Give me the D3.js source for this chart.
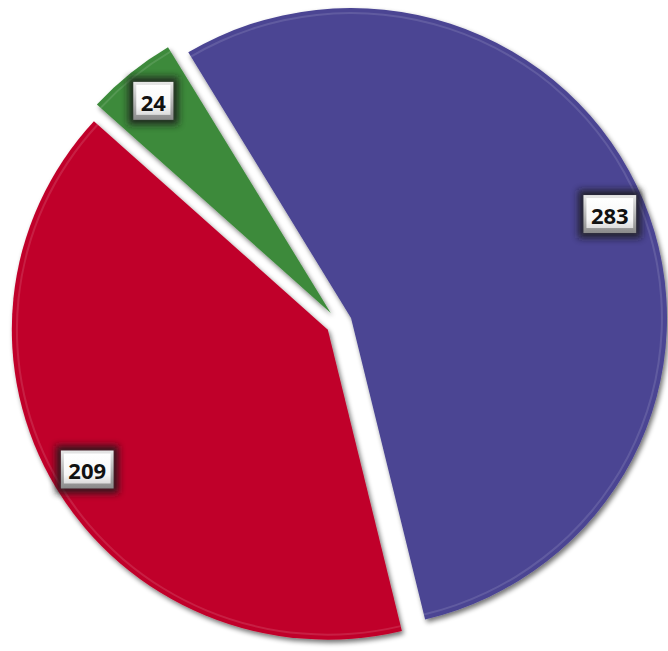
<!DOCTYPE html>
<html>
<head>
<meta charset="utf-8">
<script src="https://cdn.jsdelivr.net/npm/d3@7"></script>
<style>
  body { margin: 0; background: #fff; }
  svg { display: block; }
</style>
</head>
<body>
<svg width="668" height="651"></svg>
<script>
// slice values, clockwise from the first slice
const values = [283, 209, 24]
const colors = ["#4b4593", "#c0002a", "#3c8a3a"]
const labels = ["283", "209", "24"]

const width = 668, height = 651
const cx = 339, cy = 323
const radius = 310
const stretchX = 316 / 310   // pie is a touch wider than tall
const explode = 13
const startAngle = -31 * Math.PI / 180

const svg = d3.select("svg")
const defs = svg.append("defs")

// drop shadow for the slices
let sh = defs.append("filter").attr("id", "shadow")
    .attr("x", "-10%").attr("y", "-10%").attr("width", "120%").attr("height", "120%")
sh.append("feGaussianBlur").attr("in", "SourceAlpha").attr("stdDeviation", 2.5).attr("result", "b")
sh.append("feOffset").attr("in", "b").attr("dx", 1.5).attr("dy", 2.5).attr("result", "o")
sh.append("feComponentTransfer").attr("in", "o").attr("result", "s")
    .append("feFuncA").attr("type", "linear").attr("slope", 0.55)
let m = sh.append("feMerge")
m.append("feMergeNode").attr("in", "s")
m.append("feMergeNode").attr("in", "SourceGraphic")

// dark glow behind the label boxes
let gl = defs.append("filter").attr("id", "glow")
    .attr("x", "-50%").attr("y", "-50%").attr("width", "200%").attr("height", "200%")
gl.append("feGaussianBlur").attr("stdDeviation", 3.5)

// box face gradients
let lg = defs.append("linearGradient").attr("id", "boxEdge")
    .attr("x1", 0).attr("y1", 0).attr("x2", 0).attr("y2", 1)
lg.append("stop").attr("offset", "0%").attr("stop-color", "#e8e8e8")
lg.append("stop").attr("offset", "100%").attr("stop-color", "#8a8a8a")
let lf = defs.append("linearGradient").attr("id", "boxFace")
    .attr("x1", 0).attr("y1", 0).attr("x2", 0).attr("y2", 1)
lf.append("stop").attr("offset", "0%").attr("stop-color", "#ffffff")
lf.append("stop").attr("offset", "70%").attr("stop-color", "#f7f7f7")
lf.append("stop").attr("offset", "100%").attr("stop-color", "#dcdcdc")

const pie = d3.pie().sort(null)
    .startAngle(startAngle)
    .endAngle(startAngle + 2 * Math.PI)
const arcs = pie(values)

const arc = d3.arc().innerRadius(0).outerRadius(radius)
const rim = d3.arc().innerRadius(radius - 6).outerRadius(radius - 4)
const labelArc = d3.arc().innerRadius(radius * 0.885).outerRadius(radius * 0.885)

const g = svg.append("g").attr("transform", "translate(" + cx + "," + cy + ")")

const slice = g.selectAll("g.slice")
    .data(arcs)
    .enter()
    .append("g")
    .attr("class", "slice")
    .attr("transform", function(d) {
        let a = (d.startAngle + d.endAngle) / 2
        return "translate(" + (Math.sin(a) * explode) + "," + (-Math.cos(a) * explode) + ")"
    })

let shape = slice.append("g").attr("transform", "scale(" + stretchX + ",1)")

shape.append("path")
    .attr("d", arc)
    .attr("fill", function(d, i) { return colors[i] })
    .attr("filter", "url(#shadow)")

// faint highlight just inside the rim
shape.append("path")
    .attr("d", rim)
    .attr("fill", "#fff")
    .attr("opacity", 0.12)

// labels
slice.each(function(d, i) {
    let s = d3.select(this)
    let p = labelArc.centroid(d)
    p[0] = p[0] * stretchX
    let t = s.append("text")
        .attr("x", p[0]).attr("y", p[1] + 1)
        .attr("text-anchor", "middle")
        .attr("dominant-baseline", "central")
        .style("font-family", "'Open Sans', 'Noto Sans', sans-serif")
        .style("font-weight", "bold")
        .style("font-size", "22px")
        .attr("fill", "#111")
        .text(labels[i])
    let w = t.node().getComputedTextLength() + 15
    let h = 38
    s.insert("rect", "text")
        .attr("x", p[0] - w / 2 - 5).attr("y", p[1] - h / 2 - 5)
        .attr("width", w + 10).attr("height", h + 10)
        .attr("fill", "#1a1a1a").attr("opacity", 0.85)
        .attr("filter", "url(#glow)")
    s.insert("rect", "text")
        .attr("x", p[0] - w / 2).attr("y", p[1] - h / 2)
        .attr("width", w).attr("height", h)
        .attr("fill", "url(#boxEdge)")
    s.insert("rect", "text")
        .attr("x", p[0] - w / 2 + 3).attr("y", p[1] - h / 2 + 3)
        .attr("width", w - 6).attr("height", h - 8)
        .attr("fill", "url(#boxFace)")
})
</script>
</body>
</html>
